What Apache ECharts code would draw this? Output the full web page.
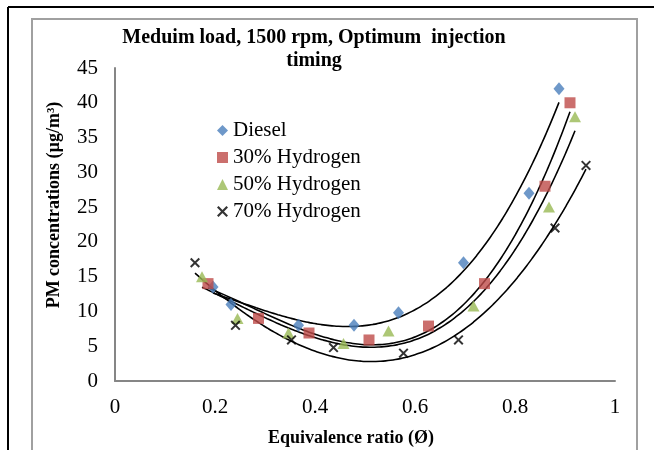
<!DOCTYPE html>
<html>
<head>
<meta charset="utf-8">
<script src="https://cdn.jsdelivr.net/npm/echarts@6/dist/echarts.min.js"></script>
<style>
html, body { margin: 0; padding: 0; background: #fff; }
#main { width: 654px; height: 450px; }
</style>
</head>
<body>
<div id="main"></div>
<script>
// values
const dieselX = [0.196, 0.232, 0.367, 0.478, 0.567, 0.697, 0.828, 0.888];
const dieselY = [13.5, 11, 8, 8, 9.8, 17, 27, 42];
const h30X = [0.186, 0.287, 0.388, 0.508, 0.627, 0.739, 0.860, 0.910];
const h30Y = [14, 9, 6.9, 5.9, 7.9, 14, 28, 40];
const h50X = [0.174, 0.245, 0.347, 0.457, 0.547, 0.717, 0.868, 0.920];
const h50Y = [15, 9, 6.9, 5.4, 7.2, 10.8, 25, 38];
const h70X = [0.160, 0.241, 0.353, 0.437, 0.577, 0.687, 0.880, 0.942];
const h70Y = [17, 8, 5.9, 4.8, 4, 5.9, 22, 31];
const seriesNames = ['Diesel', '30% Hydrogen', '50% Hydrogen', '70% Hydrogen'];

const FONT = '"Liberation Serif", "Times New Roman", serif';
const crossPath = 'path://M0,1.4 L1.4,0 L10,8.6 L8.6,10 Z M8.6,0 L10,1.4 L1.4,10 L0,8.6 Z';

function pairs(xs, ys) {
    return xs.map((x, i) => [x, ys[i]]);
}

// least squares polynomial trendline (like the spreadsheet's one), order 3
function polyFit(xs, ys, order) {
    const n = order + 1;
    const A = [];
    for (let r = 0; r < n; r++) {
        A.push(new Array(n + 1).fill(0));
        for (let c = 0; c < n; c++) {
            A[r][c] = xs.reduce((s, x) => s + Math.pow(x, r + c), 0);
        }
        A[r][n] = xs.reduce((s, x, i) => s + ys[i] * Math.pow(x, r), 0);
    }
    for (let i = 0; i < n; i++) {
        let p = i;
        for (let k = i + 1; k < n; k++) if (Math.abs(A[k][i]) > Math.abs(A[p][i])) p = k;
        [A[i], A[p]] = [A[p], A[i]];
        for (let k = i + 1; k < n; k++) {
            const f = A[k][i] / A[i][i];
            for (let c = i; c <= n; c++) A[k][c] -= f * A[i][c];
        }
    }
    const coef = new Array(n).fill(0);
    for (let i = n - 1; i >= 0; i--) {
        let s = A[i][n];
        for (let c = i + 1; c < n; c++) s -= A[i][c] * coef[c];
        coef[i] = s / A[i][i];
    }
    return coef;
}

function trend(xs, ys) {
    const coef = polyFit(xs, ys, 3);
    const lo = Math.min(...xs), hi = Math.max(...xs);
    const out = [];
    for (let k = 0; k <= 80; k++) {
        const x = lo + (hi - lo) * k / 80;
        out.push([x, coef.reduce((s, c, i) => s + c * Math.pow(x, i), 0)]);
    }
    return out;
}

function trendSeries(xs, ys) {
    return {
        type: 'line',
        data: trend(xs, ys),
        showSymbol: false,
        smooth: true,
        silent: true,
        z: 1,
        lineStyle: { color: '#000', width: 1.6 }
    };
}

const option = {
    animation: false,
    title: {
        text: 'Meduim load, 1500 rpm, Optimum  injection\ntiming',
        left: 309,
        top: 21,
        textAlign: 'center',
        textStyle: { fontFamily: FONT, fontSize: 20, fontWeight: 'bold', color: '#000', lineHeight: 23 }
    },
    legend: {
        data: seriesNames,
        orient: 'vertical',
        left: 212,
        top: 115,
        itemWidth: 11,
        itemHeight: 11,
        itemGap: 6,
        textStyle: { fontFamily: FONT, fontSize: 21, color: '#000' }
    },
    grid: { left: 115, right: 39, top: 68, bottom: 69 },
    xAxis: {
        type: 'value',
        min: 0,
        max: 1,
        interval: 0.2,
        axisLine: { lineStyle: { color: '#868686', width: 2 } },
        axisTick: { show: false },
        splitLine: { show: false },
        axisLabel: { fontFamily: FONT, fontSize: 21, color: '#000', margin: 16 }
    },
    yAxis: {
        type: 'value',
        min: 0,
        max: 45,
        interval: 5,
        axisLine: { show: true, lineStyle: { color: '#868686', width: 2 } },
        axisTick: { show: false },
        splitLine: { show: false },
        axisLabel: { fontFamily: FONT, fontSize: 21, color: '#000', margin: 17 }
    },
    graphic: [
        { type: 'line', shape: { x1: 8, y1: 7, x2: 654, y2: 7 }, style: { stroke: '#000', lineWidth: 2 } },
        { type: 'line', shape: { x1: 8, y1: 7, x2: 8, y2: 450 }, style: { stroke: '#000', lineWidth: 2 } },
        { type: 'polyline', shape: { points: [[32, 452], [32, 19], [637, 19], [637, 452]] }, style: { stroke: '#a0a0a0', lineWidth: 2, fill: null } },
        {
            type: 'text', x: 54, y: 205, rotation: Math.PI / 2,
            style: { text: 'PM concentrations (µg/m³)', font: 'bold 18px ' + FONT, fill: '#000', textAlign: 'center', textVerticalAlign: 'middle' }
        },
        {
            type: 'text', x: 351, y: 438,
            style: { text: 'Equivalence ratio (Ø)', font: 'bold 18px ' + FONT, fill: '#000', textAlign: 'center', textVerticalAlign: 'middle' }
        }
    ],
    series: [
        trendSeries(dieselX, dieselY),
        trendSeries(h30X, h30Y),
        trendSeries(h50X, h50Y),
        trendSeries(h70X, h70Y),
        {
            name: seriesNames[0], type: 'scatter', data: pairs(dieselX, dieselY),
            symbol: 'diamond', symbolSize: [11, 13], itemStyle: { color: '#4a7ebb' }, z: 3
        },
        {
            name: seriesNames[1], type: 'scatter', data: pairs(h30X, h30Y),
            symbol: 'rect', symbolSize: 11, itemStyle: { color: '#be4b48' }, z: 3
        },
        {
            name: seriesNames[2], type: 'scatter', data: pairs(h50X, h50Y),
            symbol: 'triangle', symbolSize: [12, 11], itemStyle: { color: '#98b954' }, z: 3
        },
        {
            name: seriesNames[3], type: 'scatter', data: pairs(h70X, h70Y),
            symbol: crossPath, symbolSize: 10, itemStyle: { color: '#000' }, z: 3
        }
    ]
};

const chart = echarts.init(document.getElementById('main'));
chart.setOption(option);
</script>
</body>
</html>
